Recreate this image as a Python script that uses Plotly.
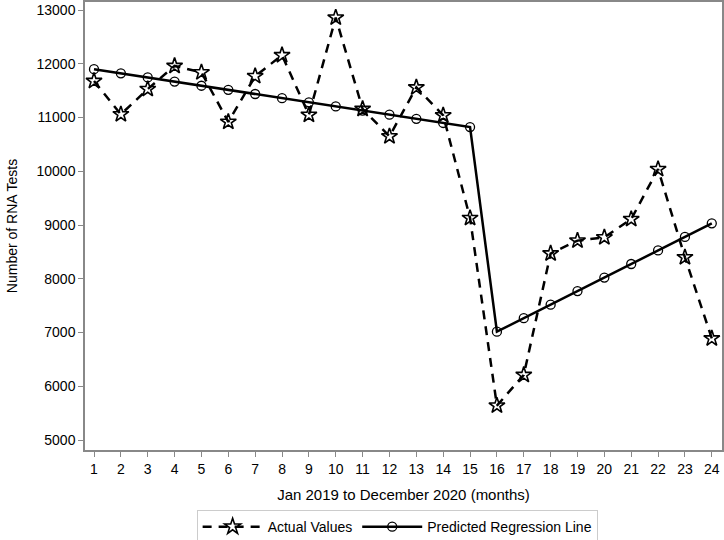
import plotly.graph_objects as go

months = list(range(1, 25))
actual_values = [11680, 11060, 11530, 11960, 11840, 10920, 11770, 12160, 11050, 12860,
                 11160, 10650, 11560, 11040, 9130, 5640, 6210, 8470, 8710, 8770,
                 9110, 10040, 8400, 6890]
predicted_x1 = list(range(1, 16))
predicted_y1 = [11900, 11823, 11746, 11669, 11592, 11515, 11438, 11361, 11284, 11207,
                11130, 11053, 10976, 10899, 10822]
predicted_x2 = list(range(16, 25))
predicted_y2 = [7015, 7267, 7519, 7771, 8023, 8275, 8527, 8779, 9031]
predicted_x = predicted_x1 + predicted_x2
predicted_y = predicted_y1 + predicted_y2

y_ticks = [5000, 6000, 7000, 8000, 9000, 10000, 11000, 12000, 13000]
y_tick_labels = ["5000", "6000", "7000", "8000", "9000", "10000", "11000", "12000", "13000"]

font = "Liberation Sans, Arial, sans-serif"

fig = go.Figure()
fig.add_trace(go.Scatter(
    x=months, y=actual_values, mode="lines+markers", name="Actual Values",
    line=dict(color="black", width=2.5, dash="9px,7px"),
    marker=dict(symbol="star-open", size=12, color="black", line=dict(width=1.6, color="black")),
))
fig.add_trace(go.Scatter(
    x=predicted_x, y=predicted_y, mode="lines+markers", name="Predicted Regression Line",
    line=dict(color="black", width=2.5),
    marker=dict(symbol="circle-open", size=9, color="black", line=dict(width=1.3, color="black")),
))

fig.update_layout(
    width=724, height=540,
    margin=dict(l=85, r=2, t=2, b=90, autoexpand=False),
    paper_bgcolor="white", plot_bgcolor="white",
    font=dict(family=font, size=14, color="black"),
    showlegend=True,
    legend=dict(orientation="h", x=0.49, xanchor="center",
                yref="container", y=0.024, yanchor="middle",
                bordercolor="#cccccc", borderwidth=1, font=dict(size=14),
                itemwidth=60, tracegroupgap=0),
)
fig.update_xaxes(
    range=[0.665, 24.38], tickmode="array", tickvals=months,
    ticks="outside", ticklen=5, tickcolor="#888888",
    showline=True, linecolor="#888888", linewidth=1.5, mirror=True,
    showgrid=False, zeroline=False,
    title=dict(text="Jan 2019 to December 2020 (months)", font=dict(size=15), standoff=14),
)
fig.update_yaxes(
    range=[4814, 13150], tickmode="array", tickvals=y_ticks, ticktext=y_tick_labels,
    ticks="outside", ticklen=5, tickcolor="#888888",
    showline=True, linecolor="#888888", linewidth=1.5, mirror=True,
    showgrid=False, zeroline=False,
    title=dict(text="Number of RNA Tests", font=dict(size=14), standoff=16),
)

fig.write_html("out.html", config={"displayModeBar": False},
               post_script="document.body.style.margin='0';document.body.style.overflow='hidden';")
